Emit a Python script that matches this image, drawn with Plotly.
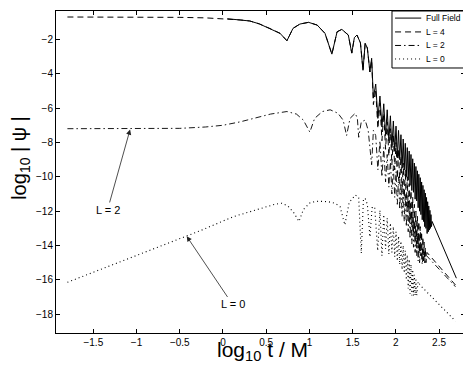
import plotly.graph_objects as go

# values (log10 t / M , log10 |psi|)
ff_x = [0.05, 0.2, 0.31, 0.42, 0.54, 0.66, 0.74, 0.81, 0.89, 0.99, 1.09, 1.18, 1.26, 1.32, 1.375,
        1.45, 1.49, 1.52, 1.55, 1.59, 1.62, 1.645, 1.67, 1.70, 1.72,
        1.740, 1.767, 1.792, 1.816, 1.839, 1.860, 1.881, 1.900, 1.919, 1.937, 1.954, 1.971,
        1.987, 2.002, 2.017, 2.031, 2.045, 2.059, 2.072, 2.085, 2.097, 2.109, 2.121, 2.132,
        2.143, 2.154, 2.164, 2.175, 2.185, 2.195, 2.204, 2.214, 2.223, 2.232, 2.241, 2.249,
        2.258, 2.266, 2.274, 2.282, 2.290, 2.298, 2.305, 2.313, 2.320, 2.327, 2.334, 2.341,
        2.348, 2.355, 2.362, 2.368, 2.375, 2.381, 2.387, 2.394, 2.400, 2.406, 2.412, 2.42, 2.70]
ff_y = [-0.80, -0.87, -0.93, -1.1, -1.36, -1.65, -2.08, -1.36, -1.11, -1.01, -1.17, -1.65, -2.86, -1.56, -1.42,
        -1.75, -2.8, -1.9, -1.75, -2.2, -3.8, -2.23, -2.5, -3.9, -3.1,
        -5.4, -4.6, -6.6, -5.3, -7.1, -5.75, -7.6, -6.1, -7.9, -6.45, -8.3, -6.75,
        -8.5, -7.05, -8.9, -7.3, -9.0, -7.55, -9.5, -7.8, -9.6, -8.05, -10.0, -8.3,
        -10.2, -8.5, -10.5, -8.7, -10.8, -8.95, -10.9, -9.2, -11.3, -9.4, -11.4, -9.65,
        -11.8, -9.85, -12.0, -10.05, -12.2, -10.3, -12.5, -10.5, -12.6, -10.75, -12.9, -10.95,
        -13.0, -11.2, -13.3, -11.45, -13.2, -11.7, -13.1, -11.95, -13.0, -12.2, -12.9, -12.6, -15.9]

l4_x = [-1.8, -1.5, -1.0, -0.5, -0.2, 0.05, 0.2, 0.31, 0.42, 0.54, 0.66, 0.74, 0.81, 0.89, 0.99, 1.09,
        1.18, 1.26, 1.32, 1.375, 1.45, 1.49, 1.52, 1.55, 1.59, 1.62, 1.645, 1.67, 1.70, 1.72,
        1.740, 1.767, 1.792, 1.816, 1.839, 1.860, 1.881, 1.900, 1.919, 1.937, 1.954, 1.971,
        1.987, 2.002, 2.017, 2.031, 2.045, 2.059, 2.072, 2.085, 2.097, 2.109, 2.121, 2.132,
        2.143, 2.154, 2.164, 2.175, 2.185, 2.195, 2.204, 2.214, 2.223, 2.232, 2.241, 2.249,
        2.258, 2.266, 2.274, 2.282, 2.290, 2.298, 2.305, 2.313, 2.320, 2.327, 2.334, 2.341,
        2.348, 2.36, 2.69]
l4_y = [-0.70, -0.70, -0.71, -0.72, -0.75, -0.80, -0.87, -0.93, -1.1, -1.36, -1.65, -2.08, -1.36, -1.11, -1.01, -1.17,
        -1.65, -2.86, -1.56, -1.42, -1.75, -2.8, -1.9, -1.75, -2.2, -3.8, -2.23, -2.5, -3.9, -3.2,
        -5.8, -4.9, -7.2, -5.7, -7.9, -6.3, -8.4, -6.8, -8.8, -7.2, -9.3, -7.6,
        -9.6, -8.0, -10.1, -8.4, -10.4, -8.8, -10.9, -9.2, -11.2, -9.6, -11.7, -10.0,
        -12.0, -10.4, -12.5, -10.8, -12.8, -11.2, -13.2, -11.6, -13.5, -12.0, -13.9, -12.3,
        -14.1, -12.6, -14.4, -12.9, -14.6, -13.2, -14.8, -13.5, -14.9, -13.8, -15.0, -14.1,
        -15.0, -14.4, -16.3]

l2_x = [-1.8, -1.5, -1.0, -0.5, -0.2, 0.0, 0.2, 0.4, 0.55, 0.74, 0.85, 0.93, 1.005, 1.06, 1.15, 1.24,
        1.33, 1.39, 1.43, 1.47, 1.53, 1.555, 1.57, 1.60, 1.645, 1.68, 1.72, 1.74,
        1.767, 1.792, 1.816, 1.839, 1.860, 1.881, 1.900, 1.919, 1.937, 1.954, 1.971,
        1.987, 2.002, 2.017, 2.031, 2.045, 2.059, 2.072, 2.085, 2.097, 2.109, 2.121, 2.132,
        2.143, 2.154, 2.164, 2.175, 2.185, 2.195, 2.204, 2.214, 2.223, 2.232, 2.241, 2.249,
        2.258, 2.266, 2.274, 2.290, 2.305, 2.32, 2.69]
l2_y = [-7.2, -7.2, -7.22, -7.18, -7.1, -7.0, -6.8, -6.55, -6.35, -6.2, -6.35, -6.7, -7.4, -6.6, -6.2, -6.1,
        -6.3, -6.7, -7.6, -6.6, -6.3, -6.6, -7.7, -6.8, -6.7, -7.3, -9.3, -7.3,
        -7.6, -9.6, -7.9, -10.0, -8.3, -10.3, -8.7, -10.6, -9.0, -11.0, -9.35,
        -11.2, -9.7, -11.6, -10.0, -11.9, -10.35, -12.3, -10.7, -12.6, -11.0, -12.9, -11.35,
        -13.2, -11.7, -13.6, -12.0, -13.9, -12.35, -14.1, -12.7, -14.4, -13.0, -14.6, -13.3,
        -14.9, -13.6, -15.0, -14.0, -15.1, -14.4, -16.4]

l0_x = [-1.8, -1.5, -1.0, -0.42, -0.26, 0.12, 0.43, 0.6, 0.68, 0.75, 0.82, 0.88, 0.93, 1.01, 1.1, 1.22,
        1.30, 1.355, 1.41, 1.46, 1.53, 1.57, 1.60, 1.625, 1.645, 1.67, 1.70, 1.725, 1.755,
        1.79, 1.816, 1.839, 1.860, 1.881, 1.900, 1.919, 1.937, 1.954, 1.971, 1.987, 2.002,
        2.017, 2.031, 2.045, 2.059, 2.072, 2.085, 2.097, 2.109, 2.121, 2.132, 2.143, 2.154,
        2.164, 2.175, 2.185, 2.195, 2.204, 2.214, 2.223, 2.232, 2.241, 2.258, 2.28, 2.69]
l0_y = [-16.14, -15.56, -14.6, -13.46, -13.13, -12.32, -11.83, -11.6, -11.54, -11.7, -12.1, -12.6, -11.9, -11.5, -11.42, -11.45,
        -11.55, -11.74, -12.8, -11.5, -11.06, -11.2, -14.45, -11.3, -11.25, -11.6, -13.5, -11.8, -11.74,
        -14.3, -11.95, -14.6, -12.2, -14.2, -12.4, -14.5, -12.7, -14.4, -12.9, -14.65, -13.2,
        -14.9, -13.45, -15.1, -13.75, -15.4, -14.0, -15.6, -14.3, -16.0, -14.55, -16.5, -14.8,
        -16.8, -15.1, -16.9, -15.4, -16.9, -15.7, -16.9, -15.9, -16.9, -16.1, -16.3, -18.4]

x_ticks = [-1.5, -1, -0.5, 0, 0.5, 1, 1.5, 2, 2.5]
y_ticks = [-2, -4, -6, -8, -10, -12, -14, -16, -18]
series_names = ["Full Field", "L = 4", "L = 2", "L = 0"]

FONT = "Liberation Sans, Arial, Helvetica, sans-serif"

fig = go.Figure()
fig.add_trace(go.Scatter(x=l0_x, y=l0_y, mode="lines", name=series_names[3],
                         line=dict(color="#000", width=1.1, dash="1px,3px")))
fig.add_trace(go.Scatter(x=l2_x, y=l2_y, mode="lines", name=series_names[2],
                         line=dict(color="#000", width=0.9, dash="6px,3px,1.5px,3px")))
fig.add_trace(go.Scatter(x=l4_x, y=l4_y, mode="lines", name=series_names[1],
                         line=dict(color="#000", width=1, dash="6px,4px")))
fig.add_trace(go.Scatter(x=ff_x, y=ff_y, mode="lines", name=series_names[0],
                         line=dict(color="#000", width=1)))

axis_common = dict(showgrid=False, zeroline=False, showline=True, linecolor="#000", linewidth=1,
                   mirror="ticks", ticks="inside", ticklen=4, tickcolor="#000",
                   tickfont=dict(family=FONT, size=10, color="#000"))

# the page body adds 8px on the top and left, so the figure is 8px smaller there
fig.update_layout(
    width=463, height=365,
    margin=dict(l=48, r=6, t=3, b=40),
    paper_bgcolor="white", plot_bgcolor="white",
    showlegend=False,
    xaxis=dict(range=[-1.932, 2.80], tickvals=x_ticks, automargin=False, **axis_common),
    yaxis=dict(range=[-19.09, -0.35], tickvals=y_ticks, automargin=False, **axis_common),
)

# legend box drawn by hand (MATLAB-style compact legend)
leg_rows = [0.978, 0.935, 0.893, 0.851]
leg_dash = ["solid", "6px,4px", "6px,3px,1.5px,3px", "1px,3px"]
fig.add_shape(type="rect", xref="paper", yref="paper", x0=0.8215, x1=1.0, y0=0.823, y1=1.0,
              line=dict(color="#000", width=1), fillcolor="white", layer="above")
for name, yy, dsh in zip(series_names, leg_rows, leg_dash):
    fig.add_shape(type="line", xref="paper", yref="paper", x0=0.829, x1=0.893, y0=yy, y1=yy,
                  line=dict(color="#000", width=1, dash=dsh), layer="above")
    fig.add_annotation(xref="paper", yref="paper", x=0.900, y=yy, text=name, showarrow=False,
                       xanchor="left", yanchor="middle", font=dict(family=FONT, size=8.5, color="#000"))

# arrows with labels
fig.add_annotation(x=-1.075, y=-7.25, ax=-1.336, ay=-11.93, axref="x", ayref="y",
                   text="L = 2", showarrow=True, arrowhead=2, arrowsize=1.3, arrowwidth=0.8,
                   arrowcolor="#222", font=dict(family=FONT, size=11, color="#000"))
fig.add_annotation(x=-0.42, y=-13.46, ax=0.111, ay=-17.43, axref="x", ayref="y",
                   text="L = 0", showarrow=True, arrowhead=2, arrowsize=1.3, arrowwidth=0.8,
                   arrowcolor="#222", font=dict(family=FONT, size=11, color="#000"))

# axis titles
fig.add_annotation(xref="paper", yref="paper", x=0.506, y=-0.056, showarrow=False,
                   text="log<sub>10</sub> t / M", xanchor="center", yanchor="middle",
                   font=dict(family=FONT, size=21, color="#000"))
fig.add_annotation(xref="paper", yref="paper", x=-0.086, y=0.5435, showarrow=False, textangle=-90,
                   text="log<sub>10</sub> | \u03c8 |", xanchor="center", yanchor="middle",
                   font=dict(family=FONT, size=20, color="#000"))

fig.write_html("out.html")
